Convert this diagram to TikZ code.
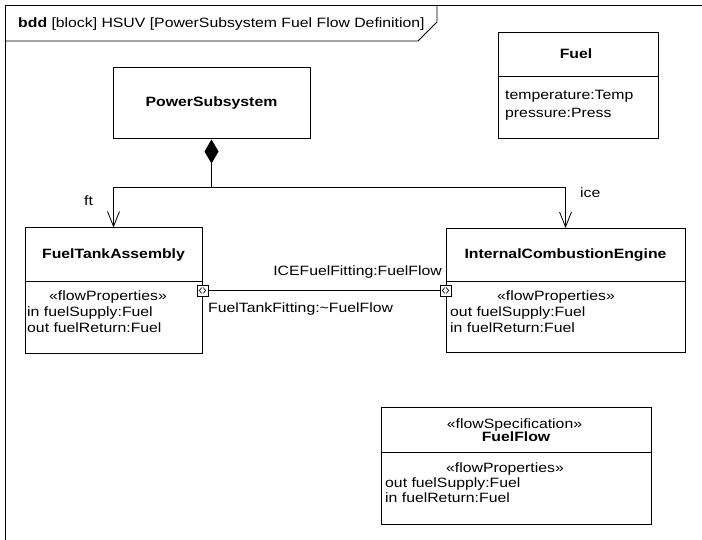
\documentclass[tikz,border=0pt]{standalone}
\usepackage{fontspec}
\setmainfont{Liberation Sans}[FakeStretch=1.17]
\usetikzlibrary{arrows.meta}

\tikzset{
  block/.style={draw,line width=1pt,inner sep=0pt},
  bname/.style={font=\fontsize{13.5}{16}\selectfont\bfseries,inner sep=0pt,anchor=base},
  stereo/.style={inner sep=0pt,anchor=base},
  txt/.style={inner sep=0pt,anchor=base west},
  port/.style={draw,fill=white,line width=.8pt,minimum size=11pt,inner sep=0pt,
    path picture={
      \draw[line width=.6pt] ([shift={(-.6pt,3pt)}]path picture bounding box.center) -- ++(-2.6pt,-3pt) -- ++(2.6pt,-3pt);
      \draw[line width=.6pt] ([shift={(.6pt,3pt)}]path picture bounding box.center) -- ++(2.6pt,-3pt) -- ++(-2.6pt,-3pt);}},
  part/.style={line width=.8pt,-{Straight Barb[length=15pt,width=12pt]}},
}

\begin{document}
\begin{tikzpicture}[x=1pt,y=-1pt,font=\fontsize{13.5}{16}\selectfont]
\useasboundingbox (0,0) rectangle (702,540);
\draw[line width=.8pt] (5,540) -- (5,5) -- (702,5);
\draw[line width=.8pt] (5,41) -- (418,41) -- (437,22) -- (437,5);
\node[txt] (title) at (18,27.5) {\textbf{bdd} [block] HSUV [PowerSubsystem Fuel Flow Definition]};

\node[block,minimum width=197pt,minimum height=71pt] (ps) at (211.5,103.5) {};
\node[bname] (psname) at (211.5,107) {PowerSubsystem};

\node[block,minimum width=160pt,minimum height=106pt] (fuel) at (578,86) {};
\draw[line width=1pt] (fuel.west |- 0,77) -- (fuel.east |- 0,77);
\node[bname] (fuelname) at (576,58.5) {Fuel};
\node[txt] (fueltemp) at (505,99.5) {temperature:Temp};
\node[txt] (fuelpress) at (505,118) {pressure:Press};

\node[block,minimum width=177pt,minimum height=125pt] (fta) at (113.5,290.5) {};
\draw[line width=1pt] (fta.west |- 0,282) -- (fta.east |- 0,282);
\node[bname] (ftaname) at (113.5,259) {FuelTankAssembly};
\node[stereo] (ftaprops) at (108,301) {«flowProperties»};
\node[txt] (ftasupply) at (27,316.5) {in fuelSupply:Fuel};
\node[txt] (ftareturn) at (27,332.5) {out fuelReturn:Fuel};

\node[block,minimum width=239pt,minimum height=124pt] (ice) at (565.5,290.5) {};
\draw[line width=1pt] (ice.west |- 0,282) -- (ice.east |- 0,282);
\node[bname] (icename) at (565.5,259) {InternalCombustionEngine};
\node[stereo] (iceprops) at (556,301) {«flowProperties»};
\node[txt] (icesupply) at (450,316.5) {out fuelSupply:Fuel};
\node[txt] (icereturn) at (450,332.5) {in fuelReturn:Fuel};

\node[block,minimum width=270pt,minimum height=117pt] (ff) at (516,465.5) {};
\draw[line width=1pt] (ff.west |- 0,452) -- (ff.east |- 0,452);
\node[stereo] (ffspec) at (514.5,428) {«flowSpecification»};
\node[bname] (ffname) at (516,441) {FuelFlow};
\node[stereo] (ffprops) at (505,472) {«flowProperties»};
\node[txt] (ffsupply) at (385,487) {out fuelSupply:Fuel};
\node[txt] (ffreturn) at (385,502) {in fuelReturn:Fuel};

\coordinate (split) at (211.5,187);
\draw[line width=.8pt,{Diamond[length=24pt,width=14pt]}-] (ps.south) -- (split);
\draw[part] (split) -| (fta.north);
\draw[part] (split) -| (ice.north);
\node[txt] (ftrole) at (84,206) {ft};
\node[txt] (icerole) at (580,198) {ice};

\node[port] (ftaport) at (202.5,290.5) {};
\node[port] (iceport) at (445.5,290.5) {};
\draw[line width=.8pt] (ftaport.east) -- (iceport.west);
\node[inner sep=0pt,anchor=base east] (icefit) at (442,276) {ICEFuelFitting:FuelFlow};
\node[txt] (ftafit) at (208,312.5) {FuelTankFitting:\textasciitilde FuelFlow};
\end{tikzpicture}
\end{document}
